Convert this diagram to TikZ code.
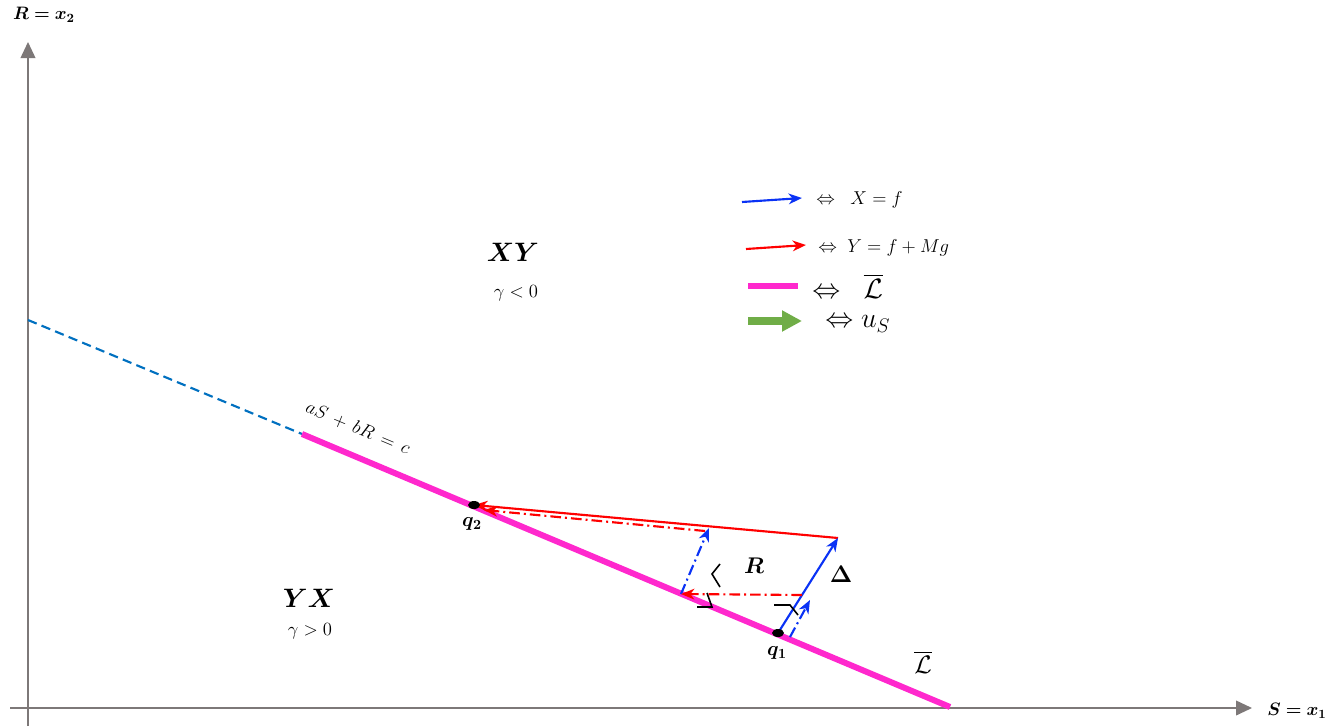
\RequirePackage{fix-cm}
\documentclass[tikz,border=0pt]{standalone}
\usepackage{amsmath,amssymb,bm}
\usetikzlibrary{arrows.meta,shapes.geometric}
\definecolor{axisgray}{RGB}{125,120,120}
\definecolor{myblue}{RGB}{10,50,245}
\definecolor{myred}{RGB}{255,0,0}
\definecolor{mymag}{RGB}{255,40,205}
\definecolor{dashblue}{RGB}{0,112,192}
\definecolor{mygreen}{RGB}{112,173,71}
\newcommand{\fs}[1]{\fontsize{#1}{#1}\selectfont}
\tikzset{
  axisline/.style={draw=axisgray,line width=1.3pt,-{Triangle[length=12pt,width=11pt]}},
  bluearrow/.style={draw=myblue,line width=1.6pt,-{Stealth[length=10pt,width=8pt,inset=3pt]}},
  redarrow/.style={draw=myred,line width=1.6pt,-{Stealth[length=10pt,width=8pt,inset=3pt]}},
  dashdot/.style={line width=1.6pt,dash pattern=on 8pt off 3pt on 1.5pt off 3pt},
  magline/.style={draw=mymag,line width=4.5pt},
  rmark/.style={draw=black,line width=1.2pt},
  lbl/.style={inner sep=0pt,font=\fs{14}},
  qdot/.style={fill=black,ellipse,minimum width=9pt,minimum height=6pt,inner sep=0pt}
}
\begin{document}
\begin{tikzpicture}[x=0.75pt,y=-0.75pt]
\useasboundingbox (0,0) rectangle (1339,728);
% axes
\coordinate (xs) at (10,708);
\coordinate (xe) at (1252,708);
\coordinate (ys) at (28,726);
\coordinate (ye) at (28,42);
\draw[axisline] (xs) -- (xe);
\draw[axisline] (ys) -- (ye);
\node[lbl,font=\fs{13.5}] (ylab) at (44,15) {$\bm{R = x_2}$};
\node[lbl,font=\fs{13.5}] (xlab) at (1297,711) {$\bm{S = x_1}$};
% line L
\coordinate (d0) at (28,320);
\coordinate (d1) at (302,434);
\coordinate (d2) at (950,707);
\draw[dashblue,line width=1.6pt,dash pattern=on 7pt off 4pt] (d0) -- (d1);
\draw[magline] (d1) -- (d2);
\node[lbl,rotate=-22.8,font=\fs{14}] (eq) at (358,428) {$aS\,+\,bR\,=\,c$};
\node[lbl,font=\fs{19}] (Lbar) at (923,662) {$\overline{\mathcal{L}}$};
% points
\coordinate (q2) at (474,505);
\coordinate (q1) at (778,633);
\coordinate (top) at (838,538);
\coordinate (p3) at (709,528);
\coordinate (p4) at (681,594);
\coordinate (p5) at (802,595);
\coordinate (p6) at (790,637);
\coordinate (p7) at (810,600);
\coordinate (p8) at (705,531);
\coordinate (p9) at (484,510);
% arrows
\draw[redarrow] (top) -- (q2);
\draw[redarrow,dashdot] (p8) -- (p9);
\draw[bluearrow] (q1) -- (top);
\draw[bluearrow,dashdot] (p4) -- (p3);
\draw[redarrow,dashdot] (p5) -- (p4);
\draw[bluearrow,dashdot] (p6) -- (p7);
\node[qdot] (q2dot) at (q2) {};
\node[qdot] (q1dot) at (q1) {};
\node[lbl,font=\fs{15}] (q2lab) at (472,524) {$\bm{q_2}$};
\node[lbl,font=\fs{15}] (q1lab) at (777,653) {$\bm{q_1}$};
% right angle marks
\draw[rmark] (720,564) -- (712,574) -- (720,587);
\draw[rmark] (697,607) -- (712,607) -- (707,593);
\draw[rmark] (774,605) -- (790,605) -- (798,615);
\node[lbl,font=\fs{17}] (Rl) at (754,566) {$\bm{R}$};
\node[lbl,font=\fs{18}] (Dl) at (841,574) {$\bm{\Delta}$};
% regions
\node[lbl,font=\fs{20}] (XY) at (513,252) {$\bm{XY}$};
\node[lbl] (g1) at (516,293) {$\gamma < 0$};
\node[lbl,font=\fs{20}] (YX) at (309,598) {$\bm{YX}$};
\node[lbl] (g2) at (310,631) {$\gamma > 0$};
% legend
\coordinate (l1a) at (742,202);
\coordinate (l1b) at (802,198);
\coordinate (l2a) at (746,249);
\coordinate (l2b) at (806,245);
\coordinate (l3a) at (748,286);
\coordinate (l3b) at (798,286);
\coordinate (l4a) at (748,321);
\coordinate (l4b) at (802,321);
\draw[bluearrow] (l1a) -- (l1b);
\draw[redarrow] (l2a) -- (l2b);
\draw[draw=mymag,line width=5pt] (l3a) -- (l3b);
\draw[draw=mygreen,line width=6pt,-{Triangle[length=15pt,width=15pt]}] (l4a) -- (l4b);
\node[lbl,anchor=west] (t1) at (816,200) {$\Leftrightarrow\;\; X = f$};
\node[lbl,anchor=west] (t2) at (818,248) {$\Leftrightarrow\; Y = f + Mg$};
\node[lbl,anchor=west,font=\fs{21}] (t3) at (812,286) {$\Leftrightarrow\;\; \overline{\mathcal{L}}$};
\node[lbl,anchor=west,font=\fs{21}] (t4) at (825,324) {$\Leftrightarrow u_S$};
\end{tikzpicture}
\end{document}
